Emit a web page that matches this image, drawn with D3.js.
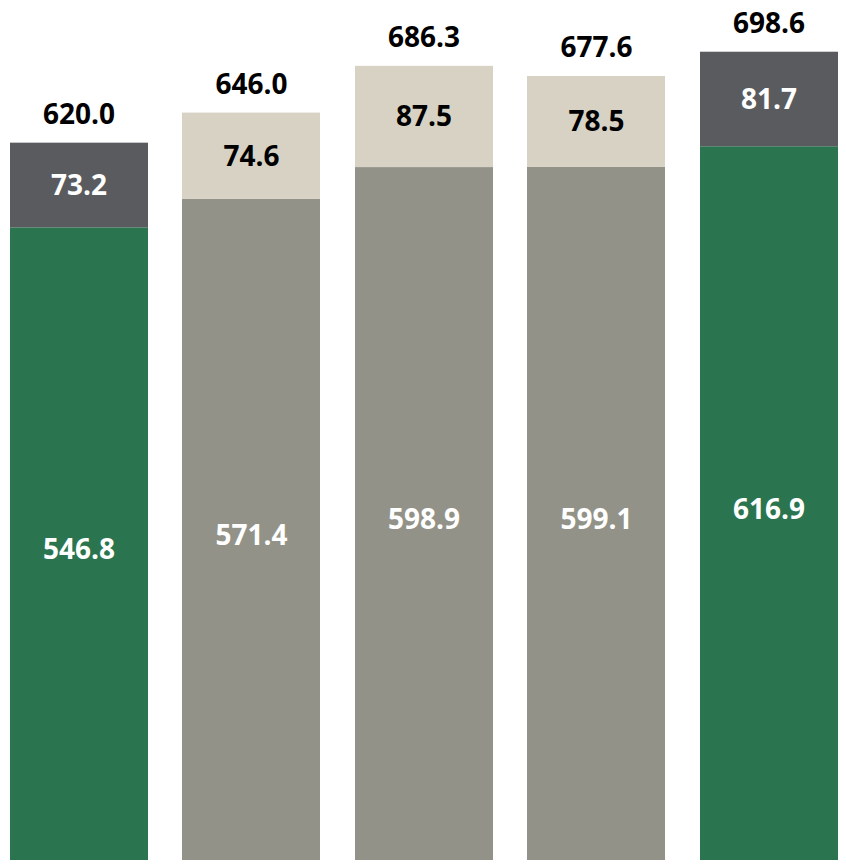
<!DOCTYPE html>
<html>
<head>
<meta charset="utf-8">
<script src="https://cdn.jsdelivr.net/npm/d3@7"></script>
<style>
  html, body { margin: 0; padding: 0; background: #ffffff; }
  svg { display: block; }
  text { font-family: "Open Sans", "Noto Sans", sans-serif; font-weight: 700; }
</style>
</head>
<body>
<svg id="chart" width="846" height="865"></svg>
<script>
// Five periods, each a base amount plus an increment stacked on top
const categories = ["P1", "P2", "P3", "P4", "P5"];
const baseValues = [546.8, 571.4, 598.9, 599.1, 616.9];
const topValues = [73.2, 74.6, 87.5, 78.5, 81.7];
const totalLabels = ["620.0", "646.0", "686.3", "677.6", "698.6"];
// Highlighted periods use the green/charcoal palette
const highlighted = [true, false, false, false, true];

const palette = {
  baseHi: "#2a754f", topHi: "#5a5b5f",
  base: "#939288", top: "#d8d2c4"
};

const svg = d3.select("#chart");
const bottom = 860;

const x = d3.scaleBand()
  .domain(categories)
  .range([10, 838])
  .paddingInner(0.2)
  .paddingOuter(0);

const y = d3.scaleLinear()
  .domain([0, 700])
  .range([bottom, bottom - 700 * 1.157]);

const rows = categories.map((c, i) => ({
  cat: c,
  base: baseValues[i],
  top: topValues[i],
  total: totalLabels[i],
  hi: highlighted[i]
}));

const g = svg.append("g");

// base segment
g.selectAll("rect.base").data(rows).join("rect")
  .attr("class", "base")
  .attr("x", d => Math.floor(x(d.cat)))
  .attr("width", x.bandwidth())
  .attr("y", d => y(d.base))
  .attr("height", d => y(0) - y(d.base))
  .attr("fill", d => d.hi ? palette.baseHi : palette.base);

// stacked increment
g.selectAll("rect.top").data(rows).join("rect")
  .attr("class", "top")
  .attr("x", d => Math.floor(x(d.cat)))
  .attr("width", x.bandwidth())
  .attr("y", d => y(d.base + d.top))
  .attr("height", d => y(d.base) - y(d.base + d.top))
  .attr("fill", d => d.hi ? palette.topHi : palette.top);

const fs = 28;

// base value labels
g.selectAll("text.base").data(rows).join("text")
  .attr("class", "base")
  .attr("x", d => x(d.cat) + x.bandwidth() / 2)
  .attr("y", d => (y(d.base) + y(0)) / 2 + 6)
  .attr("dy", "0.35em")
  .attr("text-anchor", "middle")
  .attr("font-size", fs)
  .attr("fill", "#ffffff")
  .text(d => d.base.toFixed(1));

// increment labels
g.selectAll("text.top").data(rows).join("text")
  .attr("class", "top")
  .attr("x", d => x(d.cat) + x.bandwidth() / 2)
  .attr("y", d => (y(d.base) + y(d.base + d.top)) / 2)
  .attr("dy", "0.35em")
  .attr("text-anchor", "middle")
  .attr("font-size", fs)
  .attr("fill", d => d.hi ? "#ffffff" : "#000000")
  .text(d => d.top.toFixed(1));

// totals above each bar
g.selectAll("text.total").data(rows).join("text")
  .attr("class", "total")
  .attr("x", d => x(d.cat) + x.bandwidth() / 2)
  .attr("y", d => y(d.base + d.top) - 19)
  .attr("text-anchor", "middle")
  .attr("font-size", fs)
  .attr("fill", "#000000")
  .text(d => d.total);
</script>
</body>
</html>
